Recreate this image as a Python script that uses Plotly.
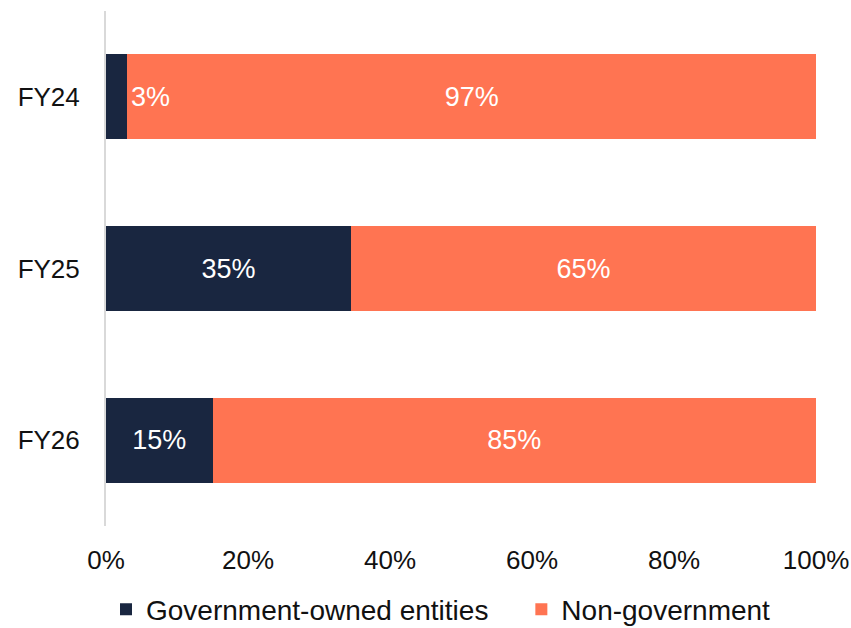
import plotly.graph_objects as go

categories = ["FY24", "FY25", "FY26"]
gov = [3, 34.5, 15]
nongov = [97, 65.5, 85]
gov_labels = ["3%", "35%", "15%"]
nongov_labels = ["97%", "65%", "85%"]
series_names = ["Government-owned entities", "Non-government"]
tick_vals = [0, 20, 40, 60, 80, 100]
tick_text = ["0%", "20%", "40%", "60%", "80%", "100%"]

NAVY = "#192640"
ORANGE = "#FF7452"
FONT = "Liberation Sans, Arial, sans-serif"

inside_gov = [("" if v < 5 else t) for v, t in zip(gov, gov_labels)]
fig = go.Figure()
fig.add_trace(go.Bar(
    y=categories, x=gov, orientation="h", name=series_names[0],
    marker=dict(color=NAVY, line=dict(width=0)),
    text=inside_gov, textposition="inside", insidetextanchor="middle",
    textangle=0, constraintext="none", hoverinfo="skip",
    textfont=dict(color="white", size=27, family=FONT),
    legend="legend",
))
fig.add_trace(go.Bar(
    y=categories, x=nongov, orientation="h", name=series_names[1],
    marker=dict(color=ORANGE, line=dict(width=0)),
    text=nongov_labels, textposition="inside", insidetextanchor="middle",
    textangle=0, constraintext="none", hoverinfo="skip",
    textfont=dict(color="white", size=27, family=FONT),
    legend="legend2",
))
for c, v, t in zip(categories, gov, gov_labels):
    if v < 5:
        fig.add_annotation(x=v, y=c, text=t, showarrow=False,
                           xanchor="left", xshift=2,
                           font=dict(color="white", size=27, family=FONT))

legend_common = dict(orientation="h", xanchor="left", y=-0.162, yanchor="middle",
                     font=dict(size=28, family=FONT, color="#111"),
                     itemwidth=30, bgcolor="rgba(0,0,0,0)")

fig.update_layout(
    barmode="stack", bargap=0.505,
    width=851, height=628,
    margin=dict(l=106, r=35, t=11, b=102, autoexpand=False),
    paper_bgcolor="white", plot_bgcolor="white",
    showlegend=True,
    legend=dict(x=0.0, **legend_common),
    legend2=dict(x=0.585, **legend_common),
    xaxis=dict(range=[0, 100], tickvals=tick_vals, ticktext=tick_text,
               showgrid=False, zeroline=False, showline=False,
               tickfont=dict(size=26, family=FONT, color="#111"),
               ticks="outside", ticklen=11, tickcolor="rgba(0,0,0,0)"),
    yaxis=dict(autorange="reversed", showgrid=False, zeroline=False,
               showline=True, linecolor="#d9d9d9", linewidth=2,
               tickfont=dict(size=26, family=FONT, color="#111"),
               ticks="outside", ticklen=19, tickcolor="rgba(0,0,0,0)"),
)
fig.write_html("out.html")
